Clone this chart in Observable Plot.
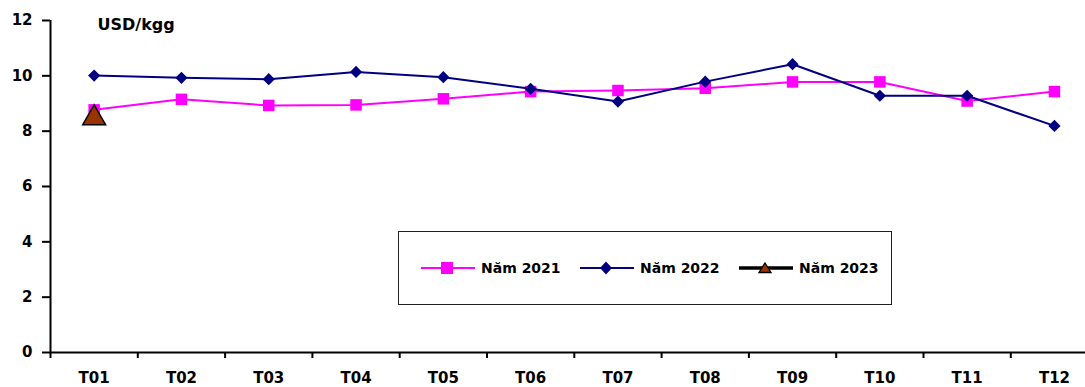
<!DOCTYPE html>
<html><head><meta charset="utf-8">
<script src="https://cdn.jsdelivr.net/npm/d3@7"></script>
<script src="https://cdn.jsdelivr.net/npm/@observablehq/plot@0.6"></script>
<style>
body{margin:0;background:#fff;font-family:"DejaVu Sans",sans-serif;}
#wrap{position:relative;width:1085px;height:387px;overflow:hidden;background:#fff;}
#wrap svg{overflow:hidden;}
#legend{position:absolute;left:398px;top:231px;width:494px;height:74px;border:1.5px solid #222;background:#fff;box-sizing:border-box;}
.item{position:absolute;top:28px;height:16px;display:flex;align-items:center;font-weight:bold;font-size:14px;color:#000;white-space:nowrap;}
.item svg{margin-right:6px;}
</style></head>
<body>
<div id="wrap"></div>
<script>
const months = ["T01","T02","T03","T04","T05","T06","T07","T08","T09","T10","T11","T12"];
const y2021 = [8.77, 9.15, 8.93, 8.95, 9.17, 9.43, 9.47, 9.55, 9.78, 9.78, 9.09, 9.43];
const y2022 = [10.01, 9.93, 9.88, 10.14, 9.95, 9.53, 9.07, 9.79, 10.42, 9.28, 9.28, 8.19];
const y2023 = [8.6];
const yTicks = [0, 2, 4, 6, 8, 10, 12];
const seriesNames = ["Năm 2021", "Năm 2022", "Năm 2023"];
const unitLabel = "USD/kgg";

const toRows = arr => arr.map((v, i) => ({x: i + 1, y: v}));
const d21 = toRows(y2021), d22 = toRows(y2022), d23 = toRows(y2023);
const idx = months.map((m, i) => i + 1);
const bounds = d3.range(0, months.length + 1).map(i => i + 0.5);
const FONT = "'DejaVu Sans', sans-serif";

const chart = Plot.plot({
  width: 1085, height: 387,
  marginLeft: 50, marginRight: 0, marginTop: 20, marginBottom: 35,
  x: {domain: [0.5, 12.5], range: [50, 1097.6]},
  y: {domain: [0, 12]},
  style: {fontFamily: FONT, fontSize: "15px", color: "#000", background: "#fff"},
  marks: [
    Plot.axisY({ticks: yTicks, tickSize: 8, tickPadding: 10, label: null, fontWeight: "bold", fontSize: 15, strokeWidth: 2}),
    Plot.axisX({ticks: bounds, tickSize: 6, tickFormat: () => "", label: null, strokeWidth: 2}),
    Plot.axisX({ticks: idx, tickSize: 0, tickPadding: 20, tickFormat: i => months[i - 1], label: null, fontWeight: "bold", fontSize: 15}),
    Plot.ruleY([0], {stroke: "#000", strokeWidth: 2}),
    Plot.ruleX([0.5], {stroke: "#000", strokeWidth: 2}),
    Plot.text([unitLabel], {frameAnchor: "top-left", dx: 47, dy: -2, fontWeight: "bold", fontSize: 16, lineAnchor: "top"}),
    Plot.line(d21, {x: "x", y: "y", stroke: "#FF00FF", strokeWidth: 2}),
    Plot.dot(d21, {x: "x", y: "y", symbol: "square", fill: "#FF00FF", r: 6.5}),
    Plot.line(d22, {x: "x", y: "y", stroke: "#000080", strokeWidth: 2}),
    Plot.dot(d22, {x: "x", y: "y", symbol: "diamond2", fill: "#000080", r: 5.5}),
    Plot.dot(d23, {x: "x", y: "y", symbol: "triangle", fill: "#993300", stroke: "#000", strokeWidth: 1.5, r: 8.5, dy: 3.5})
  ]
});
const wrap = document.getElementById("wrap");
wrap.appendChild(chart);

// legend
const legend = document.createElement("div");
legend.id = "legend";
const items = [
  {name: seriesNames[0], left: 22, stroke: "#FF00FF", sw: 2, sym: '<rect x="20" y="2" width="12" height="12" fill="#FF00FF"/>'},
  {name: seriesNames[1], left: 181, stroke: "#000080", sw: 2, sym: '<path d="M26,1.5 L32,8 L26,14.5 L20,8 Z" fill="#000080"/>'},
  {name: seriesNames[2], left: 340, stroke: "#000", sw: 3.5, sym: '<path d="M26,3 L32,12.5 L20,12.5 Z" fill="#993300" stroke="#000" stroke-width="1.3"/>'}
];
for (const it of items) {
  const el = document.createElement("div");
  el.className = "item";
  el.style.left = it.left + "px";
  el.innerHTML = `<svg width="54" height="16"><line x1="0" x2="54" y1="8" y2="8" stroke="${it.stroke}" stroke-width="${it.sw}"/>${it.sym}</svg><span>${it.name}</span>`;
  legend.appendChild(el);
}
wrap.appendChild(legend);
</script>
</body></html>
